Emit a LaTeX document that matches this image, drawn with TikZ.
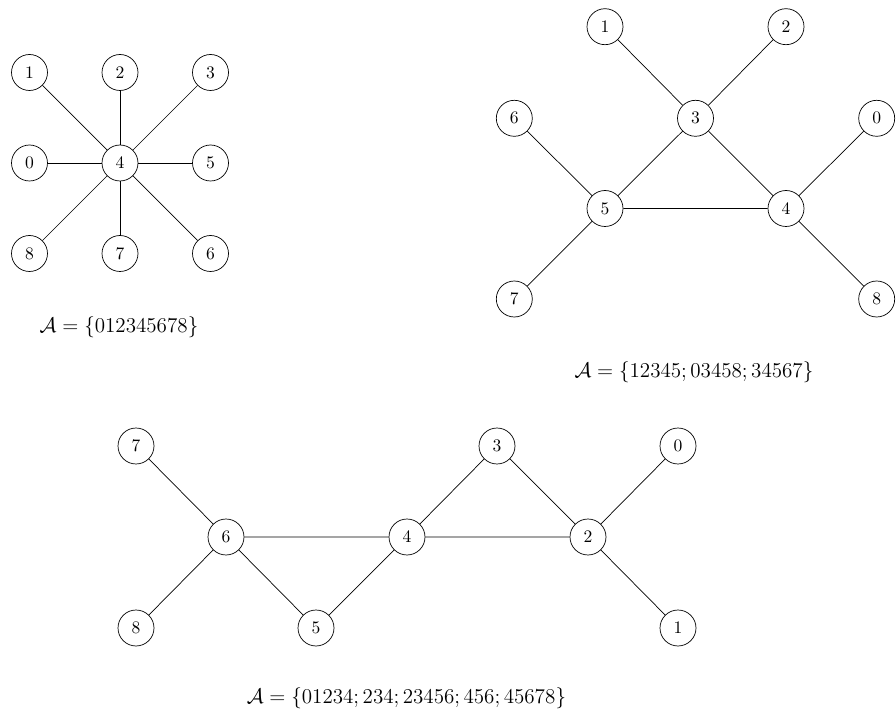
\documentclass[tikz,border=0pt]{standalone}
\begin{document}
\begin{tikzpicture}[x=0.02cm,y=-0.02cm,
  vtx/.style={circle,draw,minimum size=0.72cm,inner sep=0pt},
  lbl/.style={inner sep=0pt,font=\large}]
\useasboundingbox (0,0) rectangle (896,719);
% top-left
\node[vtx] (a1) at (29.5,72.5) {1};
\node[vtx] (a2) at (120,72.5) {2};
\node[vtx] (a3) at (210.5,72.5) {3};
\node[vtx] (a0) at (29.5,163) {0};
\node[vtx] (a4) at (120,163) {4};
\node[vtx] (a5) at (210.5,163) {5};
\node[vtx] (a8) at (29.5,253.5) {8};
\node[vtx] (a7) at (120,253.5) {7};
\node[vtx] (a6) at (210.5,253.5) {6};
\foreach \n in {a0,a1,a2,a3,a5,a6,a7,a8} \draw (a4) -- (\n);
\node[lbl] (la) at (119,327) {$\mathcal{A} = \{012345678\}$};
% top-right
\node[vtx] (b1) at (605,26.7) {1};
\node[vtx] (b2) at (786,26.7) {2};
\node[vtx] (b6) at (514.3,118.3) {6};
\node[vtx] (b3) at (695.5,118.3) {3};
\node[vtx] (b0) at (876.7,118.3) {0};
\node[vtx] (b5) at (605,208.5) {5};
\node[vtx] (b4) at (786,208.5) {4};
\node[vtx] (b7) at (514.3,299) {7};
\node[vtx] (b8) at (876.7,299) {8};
\draw (b1) -- (b3) -- (b2);
\draw (b3) -- (b5) -- (b4) -- (b3);
\draw (b6) -- (b5) -- (b7);
\draw (b0) -- (b4) -- (b8);
\node[lbl] (lb) at (694,372) {$\mathcal{A} = \{12345; 03458; 34567\}$};
% bottom
\node[vtx] (c7) at (136,446) {7};
\node[vtx] (c3) at (497,446) {3};
\node[vtx] (c0) at (678,446) {0};
\node[vtx] (c6) at (226,537) {6};
\node[vtx] (c4) at (407,537) {4};
\node[vtx] (c2) at (588,537) {2};
\node[vtx] (c8) at (136,628) {8};
\node[vtx] (c5) at (316,628) {5};
\node[vtx] (c1) at (678,628) {1};
\draw (c7) -- (c6) -- (c8);
\draw (c6) -- (c5) -- (c4) -- (c6);
\draw (c4) -- (c3) -- (c2) -- (c4);
\draw (c0) -- (c2) -- (c1);
\node[lbl] (lc) at (406.5,698.5) {$\mathcal{A} = \{01234; 234; 23456; 456; 45678\}$};
\end{tikzpicture}
\end{document}
